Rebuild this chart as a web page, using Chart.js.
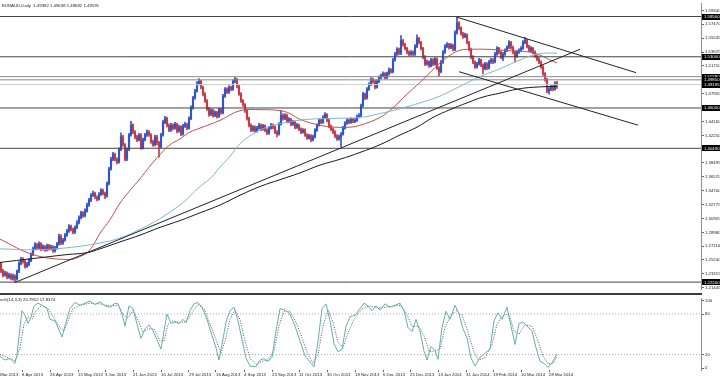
<!DOCTYPE html>
<html><head><meta charset="utf-8">
<script src="https://cdn.jsdelivr.net/npm/chart.js@4.4.1/dist/chart.umd.min.js"></script>
<style>
html,body{margin:0;padding:0;background:#fff;overflow:hidden;}
#wrap{position:relative;width:720px;height:377px;}
#c1{position:absolute;left:0;top:0;}
#sep{position:absolute;left:0;top:293px;width:702px;height:2px;background:#3c3c3c;}
#c2{position:absolute;left:0;top:295px;}
</style></head><body>
<div id="wrap"><canvas id="c1" width="720" height="293"></canvas><div id="sep"></div><canvas id="c2" width="720" height="82"></canvas></div>
<script>
// ---- EURAUD daily candles (bar index 0 = left edge) ----
const opens=[1.2476,1.2369,1.2316,1.2343,1.2290,1.2316,1.2276,1.2303,1.2263,1.2369,
1.2476,1.2529,1.2502,1.2436,1.2463,1.2516,1.2596,1.2675,1.2729,1.2689,
1.2742,1.2675,1.2702,1.2662,1.2715,1.2675,1.2702,1.2649,1.2689,1.2742,
1.2848,1.2755,1.2795,1.2862,1.2915,1.2981,1.2941,1.2901,1.2968,1.3034,
1.3101,1.3167,1.3128,1.3194,1.3274,1.3340,1.3407,1.3433,1.3380,1.3354,
1.3420,1.3473,1.3433,1.3394,1.3566,1.3766,1.3899,1.3965,1.3899,1.3859,
1.4032,1.4205,1.4098,1.3899,1.4032,1.4231,1.4364,1.4271,1.4205,1.4165,
1.4231,1.4059,1.4165,1.4231,1.4271,1.4231,1.4138,1.4098,1.4205,1.4125,
1.4072,1.4231,1.4404,1.4458,1.4364,1.4298,1.4364,1.4325,1.4378,1.4285,
1.4338,1.4245,1.4351,1.4378,1.4325,1.4458,1.4604,1.4737,1.4830,1.4936,
1.4963,1.4883,1.4790,1.4697,1.4591,1.4511,1.4564,1.4497,1.4537,1.4484,
1.4577,1.4537,1.4763,1.4857,1.4817,1.4883,1.4857,1.4963,1.4990,1.4896,
1.4790,1.4697,1.4644,1.4564,1.4458,1.4364,1.4298,1.4338,1.4285,1.4325,
1.4364,1.4311,1.4351,1.4298,1.4258,1.4325,1.4364,1.4338,1.4271,1.4245,
1.4378,1.4497,1.4458,1.4497,1.4418,1.4444,1.4378,1.4404,1.4338,1.4364,
1.4311,1.4271,1.4298,1.4231,1.4192,1.4218,1.4165,1.4205,1.4298,1.4364,
1.4431,1.4404,1.4471,1.4511,1.4431,1.4351,1.4311,1.4271,1.4218,1.4178,
1.4205,1.4245,1.4325,1.4391,1.4431,1.4404,1.4444,1.4418,1.4431,1.4484,
1.4497,1.4630,1.4790,1.4737,1.4857,1.4923,1.4990,1.4963,1.4883,1.4963,
1.5016,1.5043,1.5069,1.5016,1.5069,1.5123,1.5096,1.5256,1.5335,1.5402,
1.5349,1.5522,1.5468,1.5415,1.5362,1.5335,1.5362,1.5335,1.5442,1.5548,
1.5495,1.5415,1.5295,1.5202,1.5229,1.5176,1.5256,1.5202,1.5269,1.5149,
1.5096,1.5229,1.5362,1.5442,1.5468,1.5428,1.5455,1.5402,1.5628,1.5761,
1.5694,1.5615,1.5575,1.5601,1.5495,1.5402,1.5295,1.5229,1.5162,1.5202,
1.5256,1.5189,1.5136,1.5202,1.5149,1.5229,1.5256,1.5229,1.5335,1.5415,
1.5362,1.5295,1.5335,1.5389,1.5428,1.5495,1.5428,1.5362,1.5309,1.5362,
1.5389,1.5415,1.5495,1.5522,1.5442,1.5389,1.5415,1.5362,1.5309,1.5269,
1.5229,1.5162,1.5069,1.4990,1.4830,1.4857,1.4896,1.4857,1.49382];
const highs=[1.2490,1.2395,1.2370,1.2360,1.2345,1.2335,1.2330,1.2320,1.2385,1.2500,
1.2560,1.2555,1.2525,1.2490,1.2540,1.2620,1.2700,1.2760,1.2750,1.2770,
1.2760,1.2730,1.2720,1.2740,1.2735,1.2725,1.2720,1.2710,1.2765,1.2875,
1.2870,1.2820,1.2885,1.2940,1.3005,1.3000,1.2960,1.2990,1.3060,1.3125,
1.3190,1.3185,1.3220,1.3300,1.3365,1.3430,1.3465,1.3450,1.3400,1.3445,
1.3500,1.3490,1.3450,1.3590,1.3790,1.3925,1.3995,1.3985,1.3920,1.4055,
1.4260,1.4225,1.4115,1.4055,1.4255,1.4418,1.4385,1.4290,1.4225,1.4255,
1.4250,1.4190,1.4255,1.4300,1.4290,1.4250,1.4160,1.4230,1.4225,1.4145,
1.4255,1.4430,1.4485,1.4475,1.4385,1.4390,1.4385,1.4405,1.4395,1.4365,
1.4355,1.4375,1.4405,1.4395,1.4480,1.4630,1.4760,1.4855,1.4960,1.5003,
1.4980,1.4900,1.4810,1.4715,1.4610,1.4590,1.4585,1.4560,1.4555,1.4600,
1.4595,1.4785,1.4880,1.4875,1.4905,1.4900,1.4985,1.5020,1.5005,1.4915,
1.4810,1.4715,1.4660,1.4580,1.4475,1.4385,1.4360,1.4355,1.4350,1.4390,
1.4380,1.4375,1.4370,1.4315,1.4350,1.4390,1.4385,1.4355,1.4290,1.4400,
1.4564,1.4520,1.4525,1.4515,1.4470,1.4460,1.4430,1.4420,1.4390,1.4380,
1.4330,1.4320,1.4315,1.4250,1.4240,1.4235,1.4230,1.4320,1.4385,1.4455,
1.4450,1.4495,1.4537,1.4525,1.4450,1.4370,1.4330,1.4290,1.4235,1.4230,
1.4265,1.4350,1.4415,1.4455,1.4450,1.4465,1.4460,1.4455,1.4505,1.4525,
1.4655,1.4815,1.4805,1.4880,1.4945,1.5015,1.5010,1.4980,1.4985,1.5040,
1.5065,1.5095,1.5085,1.5090,1.5150,1.5140,1.5280,1.5360,1.5425,1.5420,
1.5588,1.5540,1.5485,1.5430,1.5380,1.5385,1.5380,1.5465,1.5601,1.5565,
1.5510,1.5430,1.5315,1.5255,1.5245,1.5280,1.5275,1.5290,1.5285,1.5165,
1.5250,1.5385,1.5465,1.5495,1.5485,1.5480,1.5470,1.5655,1.5841,1.5780,
1.5710,1.5635,1.5625,1.5615,1.5510,1.5420,1.5315,1.5245,1.5225,1.5280,
1.5270,1.5205,1.5225,1.5220,1.5250,1.5280,1.5275,1.5360,1.5440,1.5430,
1.5380,1.5360,1.5410,1.5450,1.5522,1.5510,1.5445,1.5380,1.5385,1.5410,
1.5440,1.5520,1.5561,1.5540,1.5460,1.5440,1.5430,1.5380,1.5325,1.5290,
1.5245,1.5180,1.5085,1.5005,1.4880,1.4920,1.4915,1.4960,1.49638];
const lows=[1.2350,1.2290,1.2300,1.2265,1.2270,1.2250,1.2245,1.2223,1.2245,1.2350,
1.2455,1.2480,1.2410,1.2420,1.2445,1.2500,1.2580,1.2660,1.2665,1.2670,
1.2650,1.2655,1.2640,1.2645,1.2655,1.2660,1.2625,1.2630,1.2670,1.2725,
1.2730,1.2735,1.2780,1.2845,1.2900,1.2920,1.2880,1.2885,1.2950,1.3015,
1.3085,1.3105,1.3110,1.3175,1.3255,1.3320,1.3390,1.3360,1.3330,1.3340,
1.3405,1.3410,1.3360,1.3380,1.3550,1.3750,1.3880,1.3875,1.3835,1.3845,
1.4015,1.4075,1.3875,1.3880,1.4015,1.4215,1.4250,1.4180,1.4140,1.4150,
1.4035,1.4040,1.4150,1.4210,1.4210,1.4115,1.4075,1.4080,1.4100,1.3926,
1.4050,1.4215,1.4385,1.4340,1.4275,1.4280,1.4300,1.4310,1.4260,1.4270,
1.4220,1.4230,1.4335,1.4300,1.4310,1.4440,1.4585,1.4720,1.4815,1.4915,
1.4860,1.4765,1.4675,1.4565,1.4485,1.4495,1.4475,1.4480,1.4460,1.4470,
1.4515,1.4520,1.4745,1.4795,1.4800,1.4835,1.4840,1.4945,1.4875,1.4770,
1.4675,1.4620,1.4540,1.4435,1.4340,1.4275,1.4280,1.4265,1.4270,1.4310,
1.4290,1.4295,1.4275,1.4235,1.4240,1.4310,1.4315,1.4250,1.4205,1.4230,
1.4365,1.4435,1.4440,1.4395,1.4400,1.4355,1.4360,1.4315,1.4320,1.4290,
1.4250,1.4255,1.4210,1.4170,1.4175,1.4138,1.4150,1.4190,1.4280,1.4350,
1.4385,1.4390,1.4455,1.4410,1.4330,1.4290,1.4250,1.4195,1.4155,1.4160,
1.4072,1.4230,1.4310,1.4375,1.4385,1.4390,1.4400,1.4400,1.4415,1.4465,
1.4480,1.4615,1.4715,1.4720,1.4840,1.4905,1.4940,1.4860,1.4870,1.4945,
1.5000,1.5025,1.4995,1.5000,1.5050,1.5075,1.5080,1.5240,1.5320,1.5325,
1.5330,1.5445,1.5395,1.5340,1.5315,1.5320,1.5315,1.5320,1.5425,1.5475,
1.5395,1.5275,1.5180,1.5185,1.5155,1.5160,1.5180,1.5185,1.5125,1.5029,
1.5080,1.5210,1.5345,1.5425,1.5405,1.5410,1.5380,1.5385,1.5610,1.5670,
1.5595,1.5550,1.5560,1.5475,1.5380,1.5275,1.5205,1.5140,1.5145,1.5185,
1.5165,1.5069,1.5120,1.5125,1.5130,1.5210,1.5205,1.5215,1.5320,1.5340,
1.5275,1.5245,1.5320,1.5370,1.5410,1.5405,1.5340,1.5230,1.5290,1.5345,
1.5370,1.5400,1.5480,1.5420,1.5370,1.5370,1.5340,1.5290,1.5245,1.5205,
1.5140,1.5045,1.4965,1.4810,1.4790,1.4835,1.4835,1.4845,1.48682];
const closes=[1.2369,1.2316,1.2343,1.2290,1.2316,1.2276,1.2303,1.2263,1.2369,1.2476,
1.2529,1.2502,1.2436,1.2463,1.2516,1.2596,1.2675,1.2729,1.2689,1.2742,
1.2675,1.2702,1.2662,1.2715,1.2675,1.2702,1.2649,1.2689,1.2742,1.2848,
1.2755,1.2795,1.2862,1.2915,1.2981,1.2941,1.2901,1.2968,1.3034,1.3101,
1.3167,1.3128,1.3194,1.3274,1.3340,1.3407,1.3433,1.3380,1.3354,1.3420,
1.3473,1.3433,1.3394,1.3566,1.3766,1.3899,1.3965,1.3899,1.3859,1.4032,
1.4205,1.4098,1.3899,1.4032,1.4231,1.4364,1.4271,1.4205,1.4165,1.4231,
1.4059,1.4165,1.4231,1.4271,1.4231,1.4138,1.4098,1.4205,1.4125,1.4072,
1.4231,1.4404,1.4458,1.4364,1.4298,1.4364,1.4325,1.4378,1.4285,1.4338,
1.4245,1.4351,1.4378,1.4325,1.4458,1.4604,1.4737,1.4830,1.4936,1.4963,
1.4883,1.4790,1.4697,1.4591,1.4511,1.4564,1.4497,1.4537,1.4484,1.4577,
1.4537,1.4763,1.4857,1.4817,1.4883,1.4857,1.4963,1.4990,1.4896,1.4790,
1.4697,1.4644,1.4564,1.4458,1.4364,1.4298,1.4338,1.4285,1.4325,1.4364,
1.4311,1.4351,1.4298,1.4258,1.4325,1.4364,1.4338,1.4271,1.4245,1.4378,
1.4497,1.4458,1.4497,1.4418,1.4444,1.4378,1.4404,1.4338,1.4364,1.4311,
1.4271,1.4298,1.4231,1.4192,1.4218,1.4165,1.4205,1.4298,1.4364,1.4431,
1.4404,1.4471,1.4511,1.4431,1.4351,1.4311,1.4271,1.4218,1.4178,1.4205,
1.4245,1.4325,1.4391,1.4431,1.4404,1.4444,1.4418,1.4431,1.4484,1.4497,
1.4630,1.4790,1.4737,1.4857,1.4923,1.4990,1.4963,1.4883,1.4963,1.5016,
1.5043,1.5069,1.5016,1.5069,1.5123,1.5096,1.5256,1.5335,1.5402,1.5349,
1.5522,1.5468,1.5415,1.5362,1.5335,1.5362,1.5335,1.5442,1.5548,1.5495,
1.5415,1.5295,1.5202,1.5229,1.5176,1.5256,1.5202,1.5269,1.5149,1.5096,
1.5229,1.5362,1.5442,1.5468,1.5428,1.5455,1.5402,1.5628,1.5761,1.5694,
1.5615,1.5575,1.5601,1.5495,1.5402,1.5295,1.5229,1.5162,1.5202,1.5256,
1.5189,1.5136,1.5202,1.5149,1.5229,1.5256,1.5229,1.5335,1.5415,1.5362,
1.5295,1.5335,1.5389,1.5428,1.5495,1.5428,1.5362,1.5309,1.5362,1.5389,
1.5415,1.5495,1.5522,1.5442,1.5389,1.5415,1.5362,1.5309,1.5269,1.5229,
1.5162,1.5069,1.4990,1.4830,1.4857,1.4896,1.4857,1.4938,1.49195];

// ---- moving averages, read at sample bars ----
const ma50Bars=[-0.5,16,33,39.5,44.5,49.5,54.5,59.5,64.5,69.5,74.5,79.5,84.5,89.5,94.5,99.5,109.5,119.5,129.5,139.5,144.5,149.5,159.5,167,174.5,179.5,189.5,196,203,209.5,214.5,219.5,224.5,229.5,234.5,243,251,259.5,264.5,269.5,274.5,278];
const ma50Vals=[1.2808,1.2596,1.2529,1.2569,1.2662,1.2888,1.3074,1.3301,1.3473,1.3633,1.3806,1.3965,1.4098,1.4178,1.4271,1.4325,1.4431,1.4564,1.4577,1.4564,1.4524,1.4444,1.4364,1.4338,1.4338,1.4364,1.4471,1.4604,1.4790,1.4950,1.5083,1.5216,1.5322,1.5389,1.5402,1.5402,1.5389,1.5375,1.5362,1.5322,1.5256,1.5216];
const ma100Bars=[-0.5,16,33,49.5,59.5,69.5,79.5,89.5,94.5,99.5,104.5,109.5,114.5,119.5,126,133,143,153,166,179.5,189.5,199.5,209.5,219.5,229.5,239.5,249.5,259.5,266,272,278];
const ma100Vals=[1.2675,1.2662,1.2689,1.2755,1.2822,1.2941,1.3088,1.3274,1.3394,1.3527,1.3633,1.3793,1.3939,1.4112,1.4245,1.4338,1.4404,1.4444,1.4458,1.4471,1.4524,1.4591,1.4670,1.4763,1.4896,1.5029,1.5136,1.5256,1.5322,1.5349,1.5349];
const ma200Bars=[-0.5,16,33,43,49.5,59.5,69.5,79.5,89.5,99.5,109.5,119.5,129.5,139.5,149.5,159.5,169.5,179.5,189.5,199.5,208,216,224.5,233,241,249.5,258,266,278];
const ma200Vals=[1.2489,1.2542,1.2596,1.2622,1.2675,1.2769,1.2862,1.2968,1.3061,1.3167,1.3274,1.3407,1.3527,1.3620,1.3713,1.3819,1.3899,1.3992,1.4098,1.4231,1.4338,1.4471,1.4577,1.4670,1.4750,1.4803,1.4857,1.4883,1.4896];

// ---- trend lines (two anchor points each) ----
const trendUpBars=[7,289.5],   trendUpVals=[1.2215,1.5402];
const trendTopBars=[228,317.5],trendTopVals=[1.5841,1.5083];
const trendLowBars=[229,318.5],trendLowVals=[1.5096,1.4365];

// ---- horizontal levels ----
const darkLevels=[1.58500,1.53000,1.46000,1.40490,1.22200];
const greyLevels=[1.50280,1.49850];
const bidLevel=1.49195;

// ---- axis ticks ----
const priceTicks=[1.59340,1.57470,1.55545,1.53625,1.51750,1.49880,1.47955,1.46030,1.44160,1.42250,1.40325,1.38495,1.36570,1.34700,1.32775,1.30905,1.28980,1.27110,1.25240,1.23315,1.21445];
const dateTickBars=[-3.4,10.5,24.5,38.5,52,66,80,94,107.5,121.5,135.5,149,163,177,191,204.5,218.5,232.5,246,260,274];
const dateTickLabels=['20 Mar 2013','8 Apr 2013','26 Apr 2013','15 May 2013','3 Jun 2013','21 Jun 2013','10 Jul 2013','29 Jul 2013','16 Aug 2013','4 Sep 2013','23 Sep 2013','11 Oct 2013','30 Oct 2013','18 Nov 2013','6 Dec 2013','25 Dec 2013','13 Jan 2014','31 Jan 2014','19 Feb 2014','10 Mar 2014','28 Mar 2014'];
const stochTicks=[0,20,80,100];
const stochLevels=[80,20];

// ---- Stochastic (14,3,3) ----
const stochKBars=[-0.5,2,4.5,7,8,9.5,10.5,12,13.5,15,16.5,18.5,21,23,24.5,27,30.5,32.5,34.5,37,39.5,42,44.5,47,49.5,52,54.5,57,58.5,60.5,62,64,66,68,70,72,74,76,78,80,81.5,83,85,87,89,91,92.5,94.5,96.5,98.5,100.5,103,105.5,107.5,109,110.5,112.5,114.5,116.5,118.5,120.5,122.5,124.5,127.5,129.5,131.5,133.5,135.5,137.5,139.5,142,144.5,147,149.5,152,154.5,156.5,158.5,160.5,162.5,164.5,166.5,168.5,170.5,172.5,174.5,177,179.5,181.5,183.5,185.5,187.5,189.5,192,194.5,197,199.5,201.5,203.5,205.5,207.5,209.5,211.5,213,215,217,218.5,220.5,222.5,224.5,227,229,231,233,235,237,239.5,242,244.5,246.5,248.5,250.5,253,255,257,259,261,263,265.5,267.5,269.5,271.5,273.5,275.5,278];
const stochKVals=[17,12,14,7,20,60,85,78,66,75,92,96,92,88,72,70,46,68,88,97,93,96,99,94,98,92,90,96,95,80,62,92,88,65,44,58,64,55,42,28,55,80,66,68,66,72,67,85,95,97,90,72,48,30,12,35,68,85,90,70,42,15,3,2,12,14,10,16,55,88,86,80,62,40,18,9,2,40,88,95,70,36,24,28,62,76,78,88,96,92,85,92,86,95,90,93,96,85,60,54,72,55,25,12,32,26,13,60,84,72,93,80,58,45,15,3,16,22,28,70,82,72,90,62,35,66,68,62,55,30,10,7,1,8,20.7952];
const stochDBars=[-0.5,4.5,7,9.5,11.5,13.5,15.5,17.5,20.5,23.5,26.5,29.5,31.5,33.5,36,39.5,44.5,49.5,54.5,58.5,61.5,63.5,66,69,71,73.5,76.5,79.5,81.5,83.5,86,89.5,92.5,95.5,98.5,101.5,104.5,107.5,110,112,114.5,117,119.5,122,124.5,127.5,130.5,133.5,136.5,139,141.5,144.5,147.5,150.5,153.5,156,158.5,161,163.5,166,168.5,171,173.5,176.5,180.5,184.5,189.5,194.5,199.5,202.5,205.5,208.5,211.5,214,216.5,219.5,222,224.5,227.5,230.5,233,236,238.5,242,245.5,248,251,254,256.5,259,262,265.5,268.5,271,273.5,276,278];
const stochDVals=[20,14,11,30,65,76,72,85,93,88,74,60,55,70,88,93,96,95,92,93,78,74,85,68,52,58,58,40,40,65,70,67,69,82,94,88,65,42,22,40,72,86,72,40,15,5,10,12,25,62,84,84,68,45,20,7,20,62,86,68,38,30,52,72,88,92,89,91,93,82,62,62,48,25,25,28,60,76,85,78,58,28,12,15,35,65,78,80,55,50,64,62,40,18,6,7,17.8374];

const UP='#2f55c9', DOWN='#c43a46';
const FONT='"Liberation Sans", Arial, sans-serif';
const pts=(b,v)=>b.map((x,i)=>({x:x,y:v[i]}));
const flat=(v)=>[{x:-0.5,y:v},{x:350,y:v}];
const candleColor=ctx=>closes[ctx.dataIndex]>=opens[ctx.dataIndex]?UP:DOWN;

function lineDs(data,color,width,extra){return Object.assign({type:'line',data:data,borderColor:color,borderWidth:width,pointRadius:0,fill:false,tension:0,order:0},extra||{});}

const mainDatasets=[
 {type:'bar',data:lows.map((l,i)=>({x:i,y:[l,highs[i]]})),backgroundColor:candleColor,barThickness:1,grouped:false,order:5},
 {type:'bar',data:opens.map((o,i)=>({x:i,y:[o,closes[i]]})),backgroundColor:candleColor,barThickness:1.5,grouped:false,minBarLength:1,order:4},
 lineDs(flat(bidLevel),'#cfcfcf',1,{order:3}),
 ...greyLevels.map(v=>lineDs(flat(v),'#8a8a8a',1,{order:3})),
 ...darkLevels.map(v=>lineDs(flat(v),'#444',1,{order:3})),
 lineDs(pts(ma200Bars,ma200Vals),'#1a1a1a',1,{tension:0.4,order:1}),
 lineDs(pts(ma100Bars,ma100Vals),'#7cb8d2',1,{tension:0.4,order:1}),
 lineDs(pts(ma50Bars,ma50Vals),'#c0504d',1,{tension:0.4,order:1}),
 lineDs(pts(trendUpBars,trendUpVals),'#222',1),
 lineDs(pts(trendTopBars,trendTopVals),'#222',1),
 lineDs(pts(trendLowBars,trendLowVals),'#222',1)
];

const boxPlugin={id:'boxes',afterDraw(chart){
  const y=chart.scales.y, c=chart.ctx;
  c.save();
  c.font='4.3px '+FONT; c.textBaseline='middle';
  [...darkLevels,...greyLevels,bidLevel].forEach(v=>{
    const py=y.getPixelForValue(v);
    c.fillStyle='#000'; c.fillRect(702,Math.round(py)-3,18,6);
    c.fillStyle='#fff'; c.fillText(v.toFixed(5),704,py+0.3);
  });
  c.fillStyle='#222'; c.textBaseline='middle';
  c.fillText('EURAUD,Daily  1.49382 1.49638 1.48682 1.49195',2,6);
  c.restore();
}};

new Chart(document.getElementById('c1'),{
 type:'bar',
 data:{datasets:mainDatasets},
 options:{responsive:false,animation:false,devicePixelRatio:1,events:[],
  layout:{padding:0},
  plugins:{legend:{display:false},tooltip:{enabled:false}},
  scales:{
   x:{type:'linear',min:-0.5,max:350,offset:false,display:false,grid:{offset:false}},
   y:{type:'linear',position:'right',min:1.2120,max:1.6027,
      afterBuildTicks:s=>{s.ticks=priceTicks.map(v=>({value:v}));},
      afterFit:s=>{s.width=19;},
      ticks:{autoSkip:false,padding:1,color:'#222',font:{size:4.3,family:FONT},callback:v=>Number(v).toFixed(5)},
      grid:{drawOnChartArea:false,tickLength:3,color:'#666'},
      border:{display:true,color:'#8c8c8c'}}
  }
 },
 plugins:[boxPlugin]
});

const stochLabel={id:'stlabel',afterDraw(chart){
  const c=chart.ctx; c.save(); c.font='4.3px '+FONT; c.fillStyle='#222'; c.textBaseline='middle';
  c.fillText('Stoch(14,3,3) 20.7952 17.8374',-4,4.5); c.restore();
}};

new Chart(document.getElementById('c2'),{
 type:'line',
 data:{datasets:[
  ...stochLevels.map(v=>lineDs(flat(v),'#a8a8a8',1,{borderDash:[1,2],order:3})),
  lineDs(pts(stochDBars,stochDVals),'#555',1,{borderDash:[1,1.5],order:1}),
  lineDs(pts(stochKBars,stochKVals),'#66aeaa',1,{order:0})
 ]},
 options:{responsive:false,animation:false,devicePixelRatio:1,events:[],
  layout:{padding:0},
  plugins:{legend:{display:false},tooltip:{enabled:false}},
  scales:{
   x:{type:'linear',min:-0.5,max:350,offset:false,position:'bottom',
      afterBuildTicks:s=>{s.ticks=dateTickBars.map(v=>({value:v}));},
      afterFit:s=>{s.height=7;s.paddingLeft=0;s.paddingRight=0;},
      ticks:{autoSkip:false,maxRotation:0,minRotation:0,align:'start',padding:0,color:'#222',font:{size:4.3,family:FONT},callback:(v,i)=>dateTickLabels[i]},
      grid:{drawOnChartArea:false,tickLength:2,color:'#666'},
      border:{display:false}},
   y:{type:'linear',position:'right',min:-2.8,max:102.8,
      afterBuildTicks:s=>{s.ticks=stochTicks.map(v=>({value:v}));},
      afterFit:s=>{s.width=19;},
      ticks:{autoSkip:false,padding:1,color:'#222',font:{size:4.3,family:FONT},callback:v=>String(v)},
      grid:{drawOnChartArea:false,tickLength:3,color:'#666'},
      border:{display:true,color:'#8c8c8c'}}
  }
 },
 plugins:[stochLabel]
});
</script>
</body></html>
